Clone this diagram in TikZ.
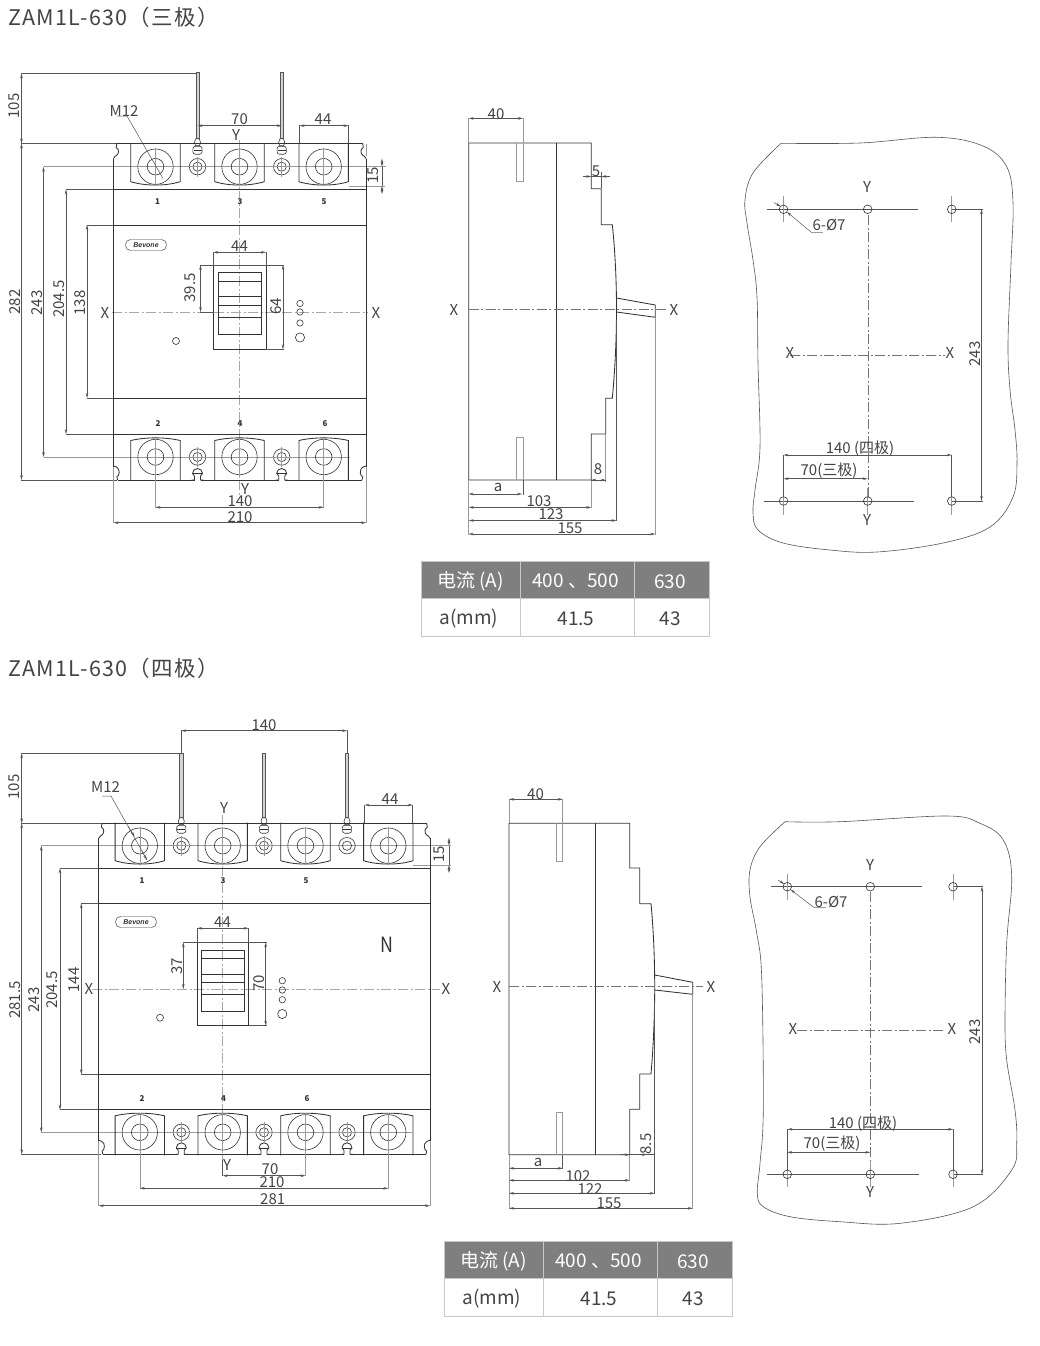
\documentclass[tikz,border=0pt]{standalone}
\usepackage{fontspec}
\setmainfont{Noto Sans CJK SC}
\newfontfamily\logofont{Liberation Sans}
\usetikzlibrary{arrows.meta}
\definecolor{ink}{HTML}{333333}
\definecolor{txt}{HTML}{444444}
\definecolor{dimc}{HTML}{555555}
\definecolor{ext}{HTML}{9A9A9A}
\definecolor{cen}{HTML}{A8A8A8}
\definecolor{hdr}{HTML}{7F7F7F}
\definecolor{tline}{HTML}{C8C8C8}
\tikzset{
 body/.style={draw=ink,line width=.85pt},
 thin/.style={draw=ink,line width=.6pt},
 dimln/.style={draw=dimc,line width=.5pt,{Stealth[length=5pt,width=2.6pt]}-{Stealth[length=5pt,width=2.6pt]}},
 onearrow/.style={draw=dimc,line width=.5pt,-{Stealth[length=5pt,width=2.6pt]}},
 extln/.style={draw=ext,line width=.6pt},
 exdark/.style={draw=dimc,line width=.5pt},
 centre/.style={draw=cen,line width=.8pt,dash pattern=on 10pt off 2.5pt on 2pt off 2.5pt},
 centrethin/.style={draw=black!55,line width=.4pt,dash pattern=on 10pt off 2.5pt on 2pt off 2.5pt},
 lab/.style={text=txt,font=\fontsize{15}{15}\selectfont,inner sep=0pt,yshift=-.8pt},
 rlab/.style={text=txt,font=\fontsize{15}{15}\selectfont,inner sep=0pt,rotate=90},
 tiny/.style={text=ink,font=\fontsize{8}{8}\selectfont\bfseries,inner sep=0pt},
 title/.style={text=txt,anchor=west,inner sep=0pt,font=\fontsize{21.5}{22}\selectfont\addfontfeature{LetterSpace=6}},
 cell/.style={inner sep=0pt,font=\fontsize{19}{19}\selectfont,yshift=-1.5pt},
}
\newcommand{\HD}[3]{\draw[dimln] (#1,#3)--(#2,#3);}
\newcommand{\VD}[3]{\draw[dimln] (#1,#2)--(#1,#3);}
\newcommand{\LB}[3]{\node[lab] at (#1,#2) {#3};}
\newcommand{\RL}[3]{\node[rlab] at (#1,#2) {#3};}
\newcommand{\EX}[4]{\draw[extln] (#1,#2)--(#3,#4);}
\newcommand{\ED}[4]{\draw[exdark] (#1,#2)--(#3,#4);}
% terminals: x, circle y
\newcommand{\TermTop}[2]{%
 \draw[body] ({#1-24.7},{#2-23})--({#1-24.7},{#2+15}) .. controls ({#1-10},{#2+19.5}) and ({#1+10},{#2+19.5}) .. ({#1+24.7},{#2+15})--({#1+24.7},{#2-23});
 \draw[thin] (#1,#2) circle[radius=17.7] (#1,#2) circle[radius=8.3];
 \draw[extln] (#1,{#2-19})--(#1,{#2+19});}
\newcommand{\TermBot}[2]{%
 \draw[body] ({#1-24.7},{#2+23})--({#1-24.7},{#2-16.5}) .. controls ({#1-10},{#2-20}) and ({#1+10},{#2-20}) .. ({#1+24.7},{#2-16.5})--({#1+24.7},{#2+23});
 \draw[thin] (#1,#2) circle[radius=17.7] (#1,#2) circle[radius=8.3];
 \draw[extln] (#1,{#2-19})--(#1,{#2+19});}
% bus bar with bolt head above small washer: x, washer y, bar top y
\newcommand{\BarTop}[3]{%
 \draw[draw=dimc,line width=.6pt,fill=ext!45] ({#1-1.7},#3) rectangle ({#1+1.7},{#2-28});
 \draw[thin,fill=white] ({#1-1.7},{#2-28})--({#1-3},{#2-24.5})--({#1-2},{#2-21})--({#1+2},{#2-21})--({#1+3},{#2-24.5})--({#1+1.7},{#2-28})--cycle;
 \draw[thin,fill=white,rounded corners=2.5pt] ({#1-4.6},{#2-20.5}) rectangle ({#1+4.6},{#2-12.5});
 \draw[thin] ({#1-4},{#2-16.5})--({#1+4},{#2-16.5});}
\newcommand{\Washer}[2]{%
 \draw[thin] (#1,#2) circle[radius=8.2] (#1,#2) circle[radius=4.6];
 \draw[extln] (#1,{#2-10})--(#1,{#2+10}) ({#1-10},#2)--({#1+10},#2);}
\newcommand{\WasherPlain}[2]{%
 \draw[thin] (#1,#2) circle[radius=8.2] (#1,#2) circle[radius=4.6];}
\newcommand{\BotLug}[2]{% x, bottom y
 \fill[white] ({#1-3},{#2-.6}) rectangle ({#1+3},{#2+.6});
 \draw[body] ({#1-6},#2)--({#1-3},#2)--({#1-3},{#2-4})--({#1-5},{#2-6.5}) arc (180:360:5)--({#1+3},{#2-4})--({#1+3},#2)--({#1+6},#2);
 \draw[thin] ({#1-5},{#2-6.5})--({#1+5},{#2-6.5});}
% corner notch: x, y, sign x
\newcommand{\NotchT}[3]{%
 \draw[body] ({#1},{#2+15}) .. controls ({#1+#3*1},{#2+12.5}) and ({#1+#3*2.5},{#2+12.5}) .. ({#1+#3*3.3},{#2+11.7}) .. controls ({#1+#3*5.5},{#2+10}) and ({#1+#3*6},{#2+5.5}) .. ({#1+#3*2.7},{#2+4}) -- ({#1+#3*3.3},{#2});}
\newcommand{\NotchB}[3]{%
 \draw[body] ({#1},{#2-14}) .. controls ({#1+#3*1},{#2-13.5}) and ({#1+#3*2},{#2-13.5}) .. ({#1+#3*3},{#2-13}) .. controls ({#1+#3*7},{#2-11}) and ({#1+#3*6},{#2-4}) .. ({#1+#3*3.4},{#2-3.3}) -- ({#1+#3*4},{#2});}
\newcommand{\Logo}[2]{%
 \draw[draw=ink,line width=.45pt,rounded corners=5pt] ({#1-20.5},{#2-5.5}) rectangle ({#1+20.5},{#2+5.5});
 \node[inner sep=0pt,text=ink,font=\logofont\fontsize{7}{7}\selectfont\bfseries\itshape] at (#1,#2) {Bevone};}
\newcommand{\Hole}[2]{\draw[thin,fill=none] (#1,#2) circle[radius=4.3];}
\newcommand{\TableBox}[2]{%
 \begin{scope}[shift={(#1,#2)}]
 \fill[hdr] (0,0) rectangle (288,37.5);
 \draw[tline,line width=1pt] (0,37.5) rectangle (288,75);
 \draw[tline,line width=1pt] (99.5,0)--(99.5,75) (213,0)--(213,75);
 \draw[tline,line width=1pt] (288,0)--(288,37.5) (0,0)--(288,0) (0,0)--(0,37.5);
 \node[cell,text=white] at (49.5,19) {电流 (A)};
 \node[cell,text=white] at (154.5,19) {400 、500};
 \node[cell,text=white] at (249,19) {630};
 \node[cell,text=txt] at (48,56) {a(mm)};
 \node[cell,text=txt] at (155,56) {41.5};
 \node[cell,text=txt] at (249,56) {43};
 \end{scope}}
\begin{document}
\begin{tikzpicture}[x=1pt,y=-1pt]
\useasboundingbox (0,0) rectangle (1039,1346);
\fill[white] (0,0) rectangle (1039,1346);
\node[title] (t1) at (8,17) {ZAM1L-630（三极）};
\node[title] (t2) at (8,668) {ZAM1L-630（四极）};

%% ===== three pole front =====
\draw[centre] (239.5,140)--(239.5,497);
\draw[centre] (112,312)--(368,312);
\EX{43.5}{166.7}{386}{166.7}
\EX{43.5}{457}{350}{457}
\EX{348.5}{186}{385}{186}
\EX{366}{143.5}{366}{156}
\draw[exdark] (21,73.5)--(196,73.5) (21,143.5)--(117,143.5) (21,480)--(117,480);
\draw[exdark] (66,189.5)--(114,189.5) (66,434)--(114,434) (87,225)--(114,225) (87,398)--(114,398);
\foreach \x in {155.5,239.5,323.7} {\TermTop{\x}{166.7}\TermBot{\x}{457}}
\foreach \x in {197.5,281.7} {\BarTop{\x}{166.7}{72}\Washer{\x}{166.7}\Washer{\x}{457}}
\draw[body] (113.5,158.5)--(113.5,467);
\draw[body] (366,158.5)--(366,467);
\draw[body] (116.8,143.5)--(362.7,143.5);
\draw[body] (117.5,480)--(362,480);
\foreach \x in {197.5,281.7} {\BotLug{\x}{480}}
\NotchT{113.5}{143.5}{1}
\NotchT{366}{143.5}{-1}
\NotchB{113.5}{480}{1}
\NotchB{366}{480}{-1}
\draw[body] (113.5,189.5)--(366,189.5) (113.5,225)--(366,225) (113.5,398)--(366,398) (113.5,434)--(366,434);
\node[tiny] at (157.5,202) {1};
\node[tiny] at (240,202) {3};
\node[tiny] at (324,202) {5};
\node[tiny] at (158,424) {2};
\node[tiny] at (240,424) {4};
\node[tiny] at (325,424) {6};
\Logo{146}{245}
\draw[thin] (213.3,265) rectangle (266,349.3);
\draw[thin] (218,272) rectangle (261,334.3);
\draw[thin] (218,281)--(261,281) (218,296)--(261,296) (218,305)--(261,305) (218,317)--(261,317);
\ED{200}{265}{284}{265}
\ED{266}{349.3}{284}{349.3}
\ED{200}{312}{214}{312}
\foreach \y/\r in {303.5/3.2,312/3.2,323/3.2,337.5/4.6} {\draw[thin] (300,\y) circle[radius=\r];}
\draw[thin] (176,341) circle[radius=3.5];
\VD{21.5}{73.5}{143.5}
\VD{21.5}{143.5}{480}
\VD{43.5}{166.7}{457}
\VD{66}{189.5}{434}
\VD{87}{225}{398}
\VD{200.5}{265}{312}
\VD{283}{265}{349.3}
\HD{213.3}{266}{252.3}
\ED{213.3}{252}{213.3}{265}
\ED{266}{252}{266}{265}
\HD{197.5}{281.7}{125.7}
\HD{299.5}{348.5}{125.7}
\ED{299.5}{125}{299.5}{143}
\ED{348.5}{125}{348.5}{143}
\VD{382}{158.7}{166.7}
\VD{382}{186}{194}
\draw[exdark] (382,166.7)--(382,186);
\draw[exdark] (117,116)--(127,116)--(163,178.5);
\draw[extln] (155.5,457)--(155.5,508) (323.7,457)--(323.7,508);
\draw[extln] (113.5,467)--(113.5,523) (366,467)--(366,523);
\HD{155.5}{323.7}{507.3}
\HD{113.5}{366}{522.7}
\RL{14}{106}{105}
\RL{15}{302}{282}
\RL{37}{303}{243}
\RL{59}{299}{204.5}
\RL{80}{303}{138}
\RL{190}{288}{39.5}
\RL{276}{306}{64}
\RL{373}{175}{15}
\LB{239.5}{245}{44}
\LB{239.5}{118}{70}
\LB{323}{118}{44}
\LB{236}{134}{Y}
\LB{124}{110}{M12}
\LB{240}{500}{140}
\LB{240}{516.5}{210}
\LB{245}{488}{Y}
\LB{105}{312}{X}
\LB{376}{312}{X}

%% ===== three pole side =====
\draw[body] (468.7,143)--(591.3,143)--(591.3,188.8)--(601.3,188.8)--(601.3,224.7)--(612.3,224.7) .. controls (615,250) and (616.5,280) .. (616.5,309) .. controls (616.5,340) and (615,370) .. (612.3,398.3)--(605.7,398.3)--(605.7,434)--(591.3,434)--(591.3,480)--(468.7,480)--cycle;
\draw[body] (556.3,143)--(556.3,480);
\draw[draw=ext,line width=.8pt] (516.7,143)--(516.7,181.7)--(523,181.7)--(523,143);
\draw[draw=ext,line width=.8pt] (516.7,480)--(516.7,437.7)--(523,437.7)--(523,480);
\draw[body] (616.5,298)--(655.3,305)--(655.3,317.3)--(616.5,312);
\draw[centrethin] (468.7,309)--(667,309);
\EX{468.7}{118}{468.7}{143}
\EX{523}{118}{523}{143}
\EX{468.7}{480}{468.7}{535}
\ED{523}{480}{523}{495}
\EX{591.3}{480}{591.3}{508}
\EX{605.7}{434}{605.7}{482}
\ED{616.5}{320}{616.5}{521}
\EX{655.3}{317}{655.3}{535}
\ED{601.3}{172}{601.3}{188}
\HD{468.7}{523}{118.4}
\draw[onearrow] (583,176.5)--(591.3,176.5);
\draw[onearrow] (609.5,176.5)--(601.3,176.5);
\draw[exdark] (591.3,176.5)--(601.3,176.5);
\draw[onearrow] (591.3,480)--(605.7,480);
\draw[onearrow] (605.7,480)--(591.3,480);
\HD{468.7}{522}{494}
\HD{468.7}{591.3}{507.4}
\HD{468.7}{616.5}{520.5}
\HD{468.7}{655.3}{534}
\LB{496}{113}{40}
\LB{596}{170}{5}
\LB{598}{468}{8}
\LB{498}{487}{a}
\LB{539}{500}{103}
\LB{551}{513}{123}
\LB{570}{527}{155}
\LB{454}{309}{X}
\LB{674}{309}{X}
\TableBox{421}{561}

%% ===== three pole mounting =====
\draw[draw=dimc,line width=.6pt] plot[smooth,tension=.6] coordinates {(781,143.3)(860,143)(936.7,137.3)(983,146)(1006.7,166.7)(1013,203)(1011,263)(1008,343)(1010,390)(1015,430)(1017,463)(1013,497)(990,527)(943,543)(877,552)(830,550)(783,543)(758,530)(753,513)(755,490)(760,447)(758,363)(757,297)(753,260)(747,223)(745,200)(753,173)(781,143.3)};
\draw[centrethin] (867.7,215)--(867.7,497);
\draw[centrethin] (790,355.3)--(945,355.3);
\draw[exdark] (767,209.3)--(917.7,209.3) (764,501)--(914,501) (951.7,209.3)--(982.7,209.3) (951.7,501)--(982.7,501);
\foreach \x in {783.5,951.7} {\EX{\x}{196}{\x}{222}\EX{\x}{488}{\x}{515}}
\EX{867.7}{488}{867.7}{515}
\ED{783.5}{455}{783.5}{496}
\ED{951.7}{455}{951.7}{496}
\foreach \x in {783.5,867.7,951.7} {\Hole{\x}{209.3}\Hole{\x}{501}}
\VD{981.5}{209.3}{501}
\HD{783.5}{951.7}{455}
\HD{783.5}{867.7}{478.7}
\draw[onearrow] (774,202.5)--(780.5,206.5);
\draw[extln] (822.5,232)--(811,232);
\draw[onearrow] (811,232)--(787,212);
\RL{975}{354}{243}
\LB{867}{186}{Y}
\LB{867}{519}{Y}
\LB{790}{352}{X}
\LB{950}{352}{X}
\LB{829}{224}{6-Ø7}
\LB{860}{448}{140 (四极)}
\LB{829}{470}{70(三极)}

%% ===== four pole front =====
\draw[centre] (222.7,815)--(222.7,1172);
\draw[centre] (92,989)--(440,989);
\EX{41.3}{845.7}{451}{845.7}
\EX{41.3}{1132.3}{412}{1132.3}
\EX{412.7}{865}{451}{865}
\draw[exdark] (21,753.3)--(181,753.3) (21,823.3)--(102,823.3) (21,1154.3)--(101,1154.3);
\draw[exdark] (60,868.3)--(99,868.3) (60,1109.7)--(99,1109.7) (81,903.3)--(99,903.3) (81,1074.3)--(99,1074.3);
\foreach \x in {139.8,222.7,305.5,388.3} {\TermTop{\x}{845.7}\TermBot{\x}{1132.3}}
\foreach \x in {181.3,264} {\Washer{\x}{845.7}}
\WasherPlain{347}{845.7}
\foreach \x in {181.3,264,347} {\BarTop{\x}{845.7}{753}\Washer{\x}{1132.3}}
\draw[body] (98.7,838.3)--(98.7,1141);
\draw[body] (430,838.3)--(430,1141);
\draw[body] (102,823.3)--(426.7,823.3);
\draw[body] (102.7,1154.3)--(426,1154.3);
\foreach \x in {181.3,264,347} {\BotLug{\x}{1154.3}}
\NotchT{98.7}{823.3}{1}
\NotchT{430}{823.3}{-1}
\NotchB{98.7}{1154.3}{1}
\NotchB{430}{1154.3}{-1}
\draw[body] (98.7,868.3)--(430,868.3) (98.7,903.3)--(430,903.3) (98.7,1074.3)--(430,1074.3) (98.7,1109.7)--(430,1109.7);
\node[tiny] at (142,881) {1};
\node[tiny] at (223,881) {3};
\node[tiny] at (306,881) {5};
\node[tiny] at (142,1099) {2};
\node[tiny] at (223.5,1099) {4};
\node[tiny] at (307,1099) {6};
\Logo{136}{922}
\node[inner sep=0pt,text=ink,font=\fontsize{21}{21}\selectfont,xscale=.85] at (387,945) {N};
\draw[thin] (197,942.3) rectangle (248.7,1025.7);
\draw[thin] (201.7,950) rectangle (244,1011);
\draw[thin] (201.7,958.3)--(244,958.3) (201.7,974)--(244,974) (201.7,982.3)--(244,982.3) (201.7,994.3)--(244,994.3);
\ED{183}{942.3}{267}{942.3}
\ED{248.7}{1025.7}{267}{1025.7}
\foreach \y/\r in {980.7/3.2,990/3.2,999.7/3.2,1014/4.6} {\draw[thin] (282.3,\y) circle[radius=\r];}
\draw[thin] (160,1017.7) circle[radius=3.5];
\ED{181.3}{730}{181.3}{753}
\ED{347}{730}{347}{753}
\HD{181.3}{347}{730.7}
\VD{21.7}{753.3}{823.3}
\VD{21.7}{823.3}{1154.3}
\VD{41.3}{845.7}{1132.3}
\VD{60}{868.3}{1109.7}
\VD{81.3}{903.3}{1074.3}
\VD{183.3}{942.3}{989}
\VD{265.7}{942.3}{1025.7}
\HD{197}{248.7}{928.3}
\ED{197}{928}{197}{942}
\ED{248.7}{928}{248.7}{942}
\HD{364.7}{412.7}{805}
\ED{364.7}{805}{364.7}{823}
\ED{412.7}{805}{412.7}{823}
\VD{449}{837.7}{845.7}
\VD{449}{865}{873}
\draw[exdark] (449,845.7)--(449,865);
\draw[exdark] (102,796)--(111,796)--(147,860);
\draw[onearrow] (128,826)--(134.5,836.5);
\draw[onearrow] (142,851)--(147,860);
\draw[extln] (139.8,1132)--(139.8,1189) (305.5,1132)--(305.5,1176) (388.3,1132)--(388.3,1189);
\draw[extln] (98.7,1141)--(98.7,1206) (430,1141)--(430,1206);
\ED{222.7}{1160}{222.7}{1176}
\HD{222.7}{305.5}{1175.7}
\HD{139.8}{388.3}{1188.3}
\HD{98.7}{430}{1205.7}
\RL{14}{787}{105}
\RL{15}{1000}{281.5}
\RL{34}{1000}{243}
\RL{52}{990}{204.5}
\RL{74}{980}{144}
\RL{177}{966}{37}
\RL{259}{983}{70}
\RL{439}{854}{15}
\LB{264}{724}{140}
\LB{222.5}{921}{44}
\LB{390}{798}{44}
\LB{105.5}{786}{M12}
\LB{224}{807}{Y}
\LB{227}{1164}{Y}
\LB{89}{988}{X}
\LB{446}{988}{X}
\LB{270}{1168}{70}
\LB{272}{1181.5}{210}
\LB{272.7}{1198.5}{281}

%% ===== four pole side =====
\draw[body] (509,823.3)--(629.7,823.3)--(629.7,868)--(639.7,868)--(639.7,903.7)--(651,903.7) .. controls (653.5,930) and (654.7,960) .. (654.7,986) .. controls (654.7,1015) and (653.5,1045) .. (651,1074)--(639.7,1074)--(639.7,1109.3)--(629.7,1109.3)--(629.7,1154.7)--(509,1154.7)--cycle;
\draw[body] (595.7,823.3)--(595.7,1154.7);
\draw[draw=ext,line width=.8pt] (556.3,823.3)--(556.3,861)--(562.7,861)--(562.7,823.3);
\draw[draw=ext,line width=.8pt] (556.3,1154.7)--(556.3,1112.3)--(562.7,1112.3)--(562.7,1154.7);
\draw[body] (654.7,975)--(692.7,982.3)--(692.7,994.3)--(654.7,990);
\draw[centrethin] (509,986)--(703,986);
\EX{509}{799}{509}{823}
\EX{562.7}{799}{562.7}{823}
\EX{509}{1155}{509}{1209}
\ED{562.7}{1155}{562.7}{1169}
\EX{629.7}{1155}{629.7}{1181}
\ED{654.7}{1000}{654.7}{1194}
\EX{692.7}{994}{692.7}{1209}
\ED{629.7}{1154.7}{654.7}{1154.7}
\HD{509}{562.7}{799.3}
\HD{509}{562.7}{1168.3}
\HD{509}{629.7}{1180.3}
\HD{509}{654.7}{1193.3}
\HD{509}{692.7}{1208.3}
\draw[onearrow] (620,1154.7)--(629.7,1154.7);
\draw[onearrow] (648,1154.7)--(639.7,1154.7);
\LB{535.5}{793}{40}
\LB{538}{1162}{a}
\LB{578}{1175}{102}
\LB{590}{1188}{122}
\LB{609}{1202}{155}
\RL{646}{1144}{8.5}
\LB{497}{986}{X}
\LB{711}{986}{X}
\TableBox{444}{1241}

%% ===== four pole mounting =====
\draw[draw=dimc,line width=.6pt] plot[smooth,tension=.6] coordinates {(785,821.7)(840,821.7)(946.7,816)(980,823.3)(1003.3,840)(1011.7,876.7)(1006.7,943)(1005,1020)(1006.7,1060)(1015,1110)(1016.7,1143)(1011.7,1170)(973.3,1206.7)(900,1223.3)(840,1221.7)(790,1216.7)(763.3,1206.7)(757.3,1193.3)(760,1163.3)(763.3,1110)(761.7,977)(756.7,933)(750,897)(750,870)(760,846.7)(785,821.7)};
\draw[centrethin] (870.3,892)--(870.3,1170);
\draw[centrethin] (797,1030.3)--(945,1030.3);
\draw[exdark] (771,886.7)--(922,886.7) (767,1174.3)--(918.5,1174.3) (953,886.7)--(982.7,886.7) (953,1174.3)--(982.7,1174.3);
\foreach \x in {787.3,953} {\EX{\x}{873.5}{\x}{899.5}\EX{\x}{1161}{\x}{1187}}
\EX{870.3}{1161}{870.3}{1187}
\ED{787.3}{1129}{787.3}{1170}
\ED{953}{1129}{953}{1170}
\foreach \x in {787.3,870.3,953} {\Hole{\x}{886.7}\Hole{\x}{1174.3}}
\VD{982}{886.7}{1174.3}
\HD{787.3}{953}{1129.3}
\HD{787.3}{870.3}{1152.3}
\draw[onearrow] (778,880)--(784.3,884);
\draw[extln] (825.5,907.5)--(814,907.5);
\draw[onearrow] (814,907.5)--(790.5,889.5);
\RL{975}{1032}{243}
\LB{870}{864}{Y}
\LB{870}{1191}{Y}
\LB{793}{1028}{X}
\LB{952}{1028}{X}
\LB{831}{901}{6-Ø7}
\LB{863}{1123}{140 (四极)}
\LB{832}{1143}{70(三极)}
\end{tikzpicture}
\end{document}
